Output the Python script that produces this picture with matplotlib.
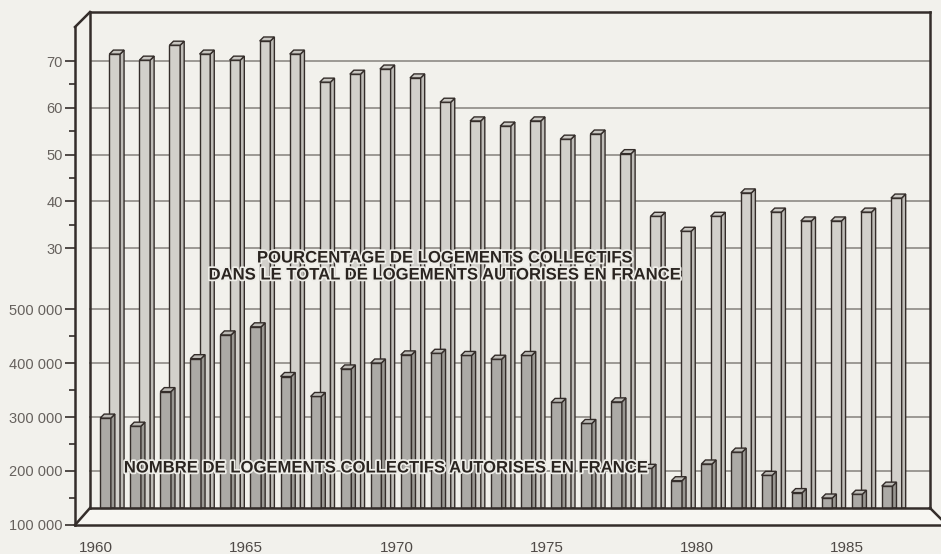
import matplotlib
matplotlib.use("Agg")
import matplotlib.pyplot as plt
from matplotlib.patches import Polygon
from matplotlib.lines import Line2D
from matplotlib.transforms import blended_transform_factory, ScaledTranslation
import matplotlib.patheffects as pe
import numpy as np

# ---------------- data ----------------
years = list(range(1960, 1987))
pct_collectifs = [71.5, 70.2, 73.4, 71.5, 70.2, 74.3, 71.5, 65.5, 67.2, 68.3,
                  66.4, 61.2, 57.2, 56.1, 57.2, 53.3, 54.4, 50.2, 36.8, 33.6,
                  36.8, 41.8, 37.7, 35.8, 35.8, 37.7, 40.7]
nb_collectifs = [298000, 283000, 347000, 408000, 452000, 467000, 375000, 338000,
                 389000, 400000, 415000, 418000, 414000, 407000, 414000, 327000,
                 288000, 328000, 205000, 182000, 213000, 235000, 192000, 160000,
                 150000, 157000, 172000]
pct_ticks = [30, 40, 50, 60, 70]
pct_minor = [35, 45, 55, 65]
nb_ticks = [100000, 200000, 300000, 400000, 500000]
nb_minor = [150000, 250000, 350000, 450000]
year_ticks = [1960, 1965, 1970, 1975, 1980, 1985]
label_pct = ["POURCENTAGE DE LOGEMENTS COLLECTIFS",
             "DANS LE TOTAL DE LOGEMENTS AUTORISES EN FRANCE"]
label_nb = "NOMBRE DE LOGEMENTS COLLECTIFS AUTORISES EN FRANCE"

# ---------------- style ----------------
plt.rcParams['font.family'] = ['Liberation Sans', 'DejaVu Sans']
W, H = 941, 554
BG = '#f2f1ec'
EC = '#342d2a'
GRID = '#8e8a85'
TALL_FACE, TALL_SIDE, TALL_CAP = '#d2d0cb', '#bebcb7', '#c9c7c2'
NB_FACE, NB_SIDE, NB_CAP = '#acaaa6', '#989691', '#bcbab5'

fig = plt.figure(figsize=(W / 100, H / 100), dpi=100, facecolor=BG)

def fx(px):
    return px / W

def fy(py):
    return 1 - py / H

X0, X1 = 90, 930
YTOP, YFLOOR, YFRONT = 12, 508, 525
FRONT_DX = 15

ax_p = fig.add_axes([fx(X0), fy(YFLOOR), (X1 - X0) / W, (YFLOOR - YTOP) / H])
ax_c = fig.add_axes([fx(X0), fy(YFRONT), (X1 - X0) / W, (YFRONT - YTOP) / H])
for ax in (ax_p, ax_c):
    ax.set_facecolor('none')
    for s in ax.spines.values():
        s.set_visible(False)
    ax.spines['left'].set_position(('outward', FRONT_DX * 0.72))

XLIM = (1959.178, 1987.12)
ax_p.set_xlim(*XLIM)
ax_c.set_xlim(*XLIM)
ax_p.set_ylim(-25.6, 80.5)
ax_c.set_ylim(100000, 1050000)

px_x = (XLIM[1] - XLIM[0]) / (X1 - X0)
px_p = (80.5 + 25.6) / (YFLOOR - YTOP)
px_c = (1050000 - 100000) / (YFRONT - YTOP)
floor_p = -25.6
floor_c = 100000 + (YFRONT - YFLOOR) * px_c

BAR_W = 10.7 * px_x
DEPTH = 4.0
NB_SHIFT = -9.2 * px_x

# gridlines (back wall)
for v in pct_ticks:
    ax_p.axhline(v, color=GRID, lw=1.2, zorder=1)
trans_c = blended_transform_factory(ax_p.transAxes, ax_c.transData)
for v in nb_ticks[1:]:
    ax_p.plot([0, 1], [v, v], transform=trans_c, color=GRID, lw=1.2, zorder=1,
              clip_on=False)


def bars3d(ax, xs, vals, bottom, face, side, cap, dy):
    dx = DEPTH * px_x
    ax.bar(xs, np.array(vals) - bottom, bottom=bottom, width=BAR_W, color=face,
           edgecolor=EC, linewidth=1.0, zorder=3)
    for x, v in zip(xs, vals):
        xl, xr = x - BAR_W / 2, x + BAR_W / 2
        ax.add_patch(Polygon([(xr, bottom), (xr, v), (xr + dx, v + dy),
                              (xr + dx, bottom)], closed=True, fc=side,
                             ec=EC, lw=1.0, zorder=3))
        ax.add_patch(Polygon([(xl, v), (xr, v), (xr + dx, v + dy),
                              (xl + dx, v + dy)], closed=True, fc=cap,
                             ec=EC, lw=1.0, zorder=3))


xs = np.array(years, dtype=float)
bars3d(ax_p, xs, pct_collectifs, floor_p, TALL_FACE, TALL_SIDE, TALL_CAP,
       DEPTH * px_p)
bars3d(ax_c, xs + NB_SHIFT, nb_collectifs, floor_c, NB_FACE, NB_SIDE, NB_CAP,
       DEPTH * px_c)

# ticks
ax_p.set_yticks(pct_ticks)
ax_p.set_yticklabels([str(v) for v in pct_ticks])
ax_p.set_yticks(pct_minor, minor=True)
ax_c.set_yticks(nb_ticks)
ax_c.set_yticklabels([f"{v:,}".replace(",", " ") for v in nb_ticks])
ax_c.set_yticks(nb_minor, minor=True)
for ax in (ax_p, ax_c):
    ax.tick_params(axis='y', which='major', length=7.2, width=1.2, color=EC,
                   pad=1.5, labelsize=10.5, labelcolor='#66615d')
    ax.tick_params(axis='y', which='minor', length=4.3, width=1.2, color=EC)
ax_c.set_xticks([])
ax_p.set_xticks(year_ticks)
ax_p.set_xticklabels([str(y) for y in year_ticks])
ax_p.tick_params(axis='x', length=0, pad=24, labelsize=11, labelcolor='#4f4a47')
shift = ScaledTranslation(-19 / 100, 0, fig.dpi_scale_trans)
for lab in ax_p.get_xticklabels():
    lab.set_transform(lab.get_transform() + shift)

# 3D frame decorations
floor = Polygon([(fx(75), fy(YFRONT)), (fx(X0), fy(YFLOOR)), (fx(X1), fy(YFLOOR)),
                 (fx(947), fy(YFRONT))], closed=True, transform=fig.transFigure,
                fc='#f7f6f2', ec='none', zorder=-1)
fig.add_artist(floor)
segs = [((X0, YTOP), (X1, YTOP)), ((X1, YTOP), (X1, YFLOOR)),
        ((X0, YTOP), (X0, YFLOOR)), ((75, YTOP + FRONT_DX), (X0, YTOP)),
        ((75, YTOP + FRONT_DX), (75, YFRONT)), ((X0, YFLOOR), (X1, YFLOOR)),
        ((75, YFRONT), (W, YFRONT)), ((75, YFRONT), (X0, YFLOOR)),
        ((X1, YFLOOR), (946, 524))]
for (a, b) in segs:
    fig.add_artist(Line2D([fx(a[0]), fx(b[0])], [fy(a[1]), fy(b[1])],
                          transform=fig.transFigure, color=EC, lw=1.8,
                          solid_capstyle='projecting', zorder=5))

# series labels
halo = [pe.withStroke(linewidth=2.5, foreground='#eeede8')]
fig.text(fx(444), fy(258), label_pct[0], ha='center', va='center', fontsize=12,
         fontweight='bold', color='#2a2420', path_effects=halo, zorder=6)
fig.text(fx(444), fy(275), label_pct[1], ha='center', va='center', fontsize=12,
         fontweight='bold', color='#2a2420', path_effects=halo, zorder=6)
fig.text(fx(385), fy(468), label_nb, ha='center', va='center', fontsize=12,
         fontweight='bold', color='#2a2420', path_effects=halo, zorder=6)

fig.savefig("out.png", dpi=100, facecolor=BG)
